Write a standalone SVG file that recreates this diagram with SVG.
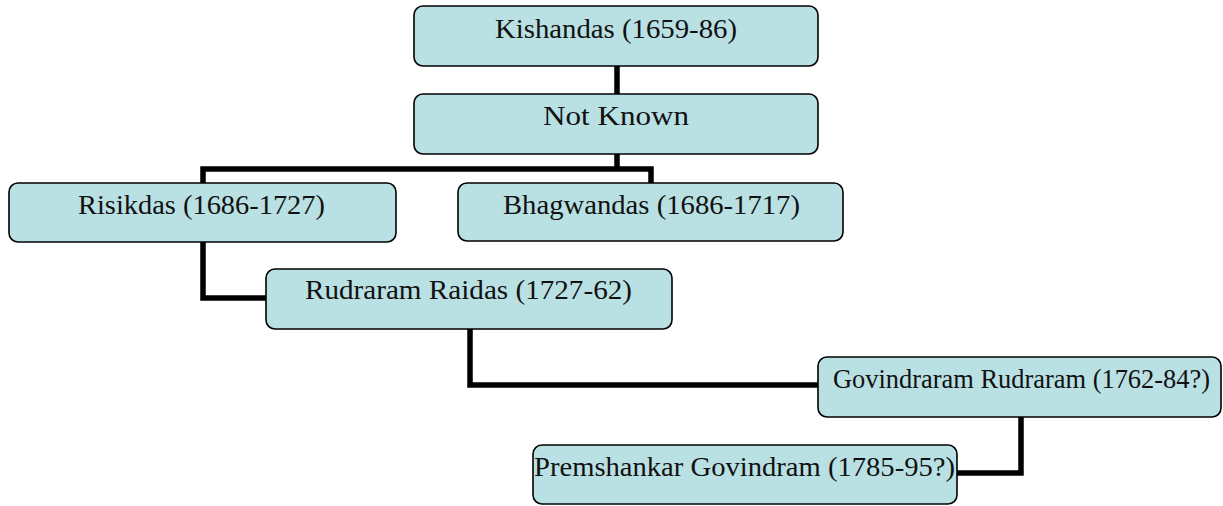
<svg xmlns="http://www.w3.org/2000/svg" width="1223" height="506" viewBox="0 0 1223 506">
<style>
.box{fill:#B9E0E3;stroke:#000;stroke-width:1.6}
.lbl{font-family:"Liberation Serif","Times New Roman",serif;font-size:28px;fill:#111;text-anchor:middle}
.tight{font-size:26.5px}
.conn{fill:none;stroke:#000;stroke-width:5.5;stroke-linejoin:miter;stroke-linecap:butt}
</style>
<rect width="1223" height="506" fill="#fff"/>
<g id="connectors">
<path class="conn" d="M617 66V94"/>
<path class="conn" d="M617 154V169"/>
<path class="conn" d="M203 183V169H651V183"/>
<path class="conn" d="M203 242V298H266"/>
<path class="conn" d="M470 329V385H818"/>
<path class="conn" d="M1021 417V473H957"/>
</g>
<g id="kishandas">
<rect class="box" x="414" y="6" width="404" height="60" rx="9"/>
<text class="lbl" x="616" y="38" textLength="242" lengthAdjust="spacingAndGlyphs">Kishandas (1659-86)</text>
</g>
<g id="not-known">
<rect class="box" x="414" y="94" width="404" height="60" rx="9"/>
<text class="lbl" x="616" y="125" textLength="146" lengthAdjust="spacingAndGlyphs">Not Known</text>
</g>
<g id="risikdas">
<rect class="box" x="9" y="183" width="387" height="59" rx="9"/>
<text class="lbl" x="201.5" y="214" textLength="247" lengthAdjust="spacingAndGlyphs">Risikdas (1686-1727)</text>
</g>
<g id="bhagwandas">
<rect class="box" x="458" y="183" width="385" height="58" rx="9"/>
<text class="lbl" x="651.5" y="214" textLength="297" lengthAdjust="spacingAndGlyphs">Bhagwandas (1686-1717)</text>
</g>
<g id="rudraram">
<rect class="box" x="266" y="269" width="406" height="60" rx="9"/>
<text class="lbl" x="468.5" y="299" textLength="327" lengthAdjust="spacingAndGlyphs">Rudraram Raidas (1727-62)</text>
</g>
<g id="govindraram">
<rect class="box" x="818" y="357" width="403" height="60" rx="9"/>
<text class="lbl tight" x="1021.5" y="388" textLength="377" lengthAdjust="spacingAndGlyphs">Govindraram Rudraram (1762-84?)</text>
</g>
<g id="premshankar">
<rect class="box" x="533" y="445" width="424" height="59" rx="9"/>
<text class="lbl tight" x="744.5" y="476" textLength="421" lengthAdjust="spacingAndGlyphs">Premshankar Govindram (1785-95?)</text>
</g>
</svg>
